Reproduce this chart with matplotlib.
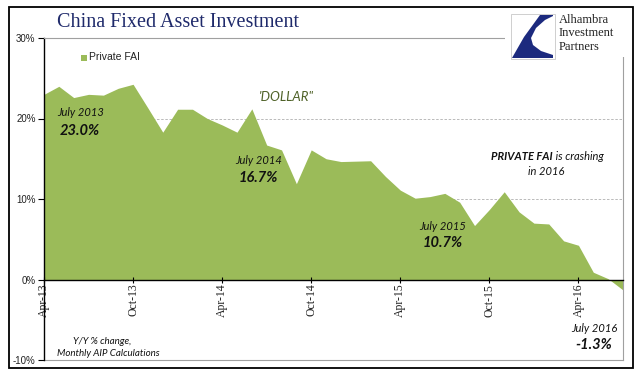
import matplotlib
matplotlib.use('Agg')
import matplotlib.pyplot as plt
from matplotlib.patches import Rectangle, Polygon

# ---------------- data ----------------
months = ['Apr-13', 'May-13', 'Jun-13', 'Jul-13', 'Aug-13', 'Sep-13', 'Oct-13', 'Nov-13',
          'Dec-13', 'Jan-14', 'Feb-14', 'Mar-14', 'Apr-14', 'May-14', 'Jun-14', 'Jul-14',
          'Aug-14', 'Sep-14', 'Oct-14', 'Nov-14', 'Dec-14', 'Jan-15', 'Feb-15', 'Mar-15',
          'Apr-15', 'May-15', 'Jun-15', 'Jul-15', 'Aug-15', 'Sep-15', 'Oct-15', 'Nov-15',
          'Dec-15', 'Jan-16', 'Feb-16', 'Mar-16', 'Apr-16', 'May-16', 'Jun-16', 'Jul-16']
private_fai = [23.0, 24.0, 22.6, 23.0, 22.9, 23.75, 24.25, 21.3,
               18.3, 21.15, 21.15, 20.0, 19.2, 18.3, 21.2, 16.7,
               16.1, 11.9, 16.1, 15.0, 14.65, 14.7, 14.75, 12.8,
               11.1, 10.1, 10.3, 10.7, 9.6, 6.7, 8.7, 10.9,
               8.4, 7.0, 6.9, 4.8, 4.25, 0.9, 0.1, -1.3]
xtick_labels = ['Apr-13', 'Oct-13', 'Apr-14', 'Oct-14', 'Apr-15', 'Oct-15', 'Apr-16']
ytick_values = [-10, 0, 10, 20, 30]
ytick_labels = ['-10%', '0%', '10%', '20%', '30%']
series_name = 'Private FAI'

W, H = 641, 382
GREEN = '#9BBB59'
SANS = ['Lato', 'DejaVu Sans']


def fx(px):
    return px / W


def fy(py):
    return 1 - py / H


fig = plt.figure(figsize=(W / 100, H / 100), dpi=100)
fig.patch.set_facecolor('white')

ax = fig.add_axes([fx(44), fy(360), (623 - 44) / W, (360 - 38) / H])
x = [months.index(m) for m in months]
ax.fill_between(x, private_fai, 0, color=GREEN, linewidth=0, zorder=1)

ax.set_xlim(0, len(months) - 1)
ax.set_ylim(-10, 30)

for g in [10, 20]:
    ax.axhline(g, color='#B0B0B0', lw=0.6, ls=(0, (3, 2)), zorder=0)
ax.axhline(-10, color='#A0A0A0', lw=0.8, clip_on=False, zorder=2)

ax.spines['bottom'].set_position(('data', 0))
ax.spines['bottom'].set_color('black')
ax.spines['bottom'].set_linewidth(1.0)
ax.spines['left'].set_color('black')
ax.spines['left'].set_linewidth(1.0)
for s in ['top', 'right']:
    ax.spines[s].set_color('#A0A0A0')
    ax.spines[s].set_linewidth(0.8)

ax.set_xticks([months.index(m) for m in xtick_labels])
ax.set_xticklabels(xtick_labels, rotation=90, fontfamily='Liberation Serif',
                   fontsize=8.5, color='#222222', va='top', ha='center')
ax.tick_params(axis='x', direction='inout', length=5, width=0.8, pad=0.5)
ax.set_yticks(ytick_values)
ax.set_yticklabels(ytick_labels, fontfamily='Liberation Sans', fontsize=7, color='#222222')
ax.tick_params(axis='y', direction='out', length=4, width=0.8, pad=2)

# ---------------- title & legend ----------------
fig.text(fx(178), fy(27), 'China Fixed Asset Investment', family='Liberation Serif',
         fontsize=14.5, color='#1F2A6B', ha='center', va='baseline')
fig.add_artist(Rectangle((fx(81), fy(61)), 6 / W, 6 / H, transform=fig.transFigure,
                         facecolor=GREEN, edgecolor='none'))
fig.text(fx(89), fy(57.5), series_name, family='Liberation Sans', fontsize=7.5,
         color='#222222', ha='left', va='center')

# ---------------- annotations ----------------
def note(px, py, s, size=8, weight='normal', color='#111111', ha='center'):
    fig.text(fx(px), fy(py), s, family=SANS, style='italic', fontsize=size,
             fontweight=weight, color=color, ha=ha, va='center')


note(81, 113, 'July 2013')
note(80, 131, '23.0%', size=10.5, weight='bold')
note(286, 97, "'DOLLAR\"", size=9.5, color='#4F6228')
note(259, 161, 'July 2014')
note(258, 178, '16.7%', size=10.5, weight='bold')
note(553, 156, 'PRIVATE FAI', weight='bold', ha='right')
note(553, 156, ' is crashing', ha='left')
note(546, 172, 'in 2016')
note(443, 226, 'July 2015')
note(443, 243, '10.7%', size=10.5, weight='bold')
note(594, 328, 'July 2016')
note(594, 345, '-1.3%', size=10.5, weight='bold')
note(102, 341, 'Y/Y % change,', size=7)
note(108, 353, 'Monthly AIP Calculations', size=7)

# ---------------- logo ----------------
fig.add_artist(Rectangle((fx(505), fy(57)), (632 - 505) / W, (57 - 8) / H,
                         transform=fig.transFigure, facecolor='white', edgecolor='none'))
fig.add_artist(Rectangle((fx(511), fy(59)), 44 / W, 45 / H, transform=fig.transFigure,
                         facecolor='white', edgecolor='#C8C8C8', linewidth=0.6))
logo_pts = [(553, 15), (540, 15), (524, 37), (512, 58), (553, 58), (553, 55),
            (541, 51), (533, 45), (531, 38), (536, 28), (545, 20), (553, 16)]
fig.add_artist(Polygon([(fx(a), fy(b)) for a, b in logo_pts], closed=True,
                       transform=fig.transFigure, facecolor='#1C2A7E', edgecolor='none'))
for i, word in enumerate(['Alhambra', 'Investment', 'Partners']):
    fig.text(fx(559), fy(20 + 13.5 * i), word, family='Liberation Serif', fontsize=9,
             color='#222222', ha='left', va='center')

# ---------------- outer frame ----------------
fig.add_artist(Rectangle((fx(9), fy(368)), (633 - 9) / W, (368 - 7) / H,
                         transform=fig.transFigure, facecolor='none',
                         edgecolor='black', linewidth=1.3))

fig.savefig('out.png', dpi=100)
